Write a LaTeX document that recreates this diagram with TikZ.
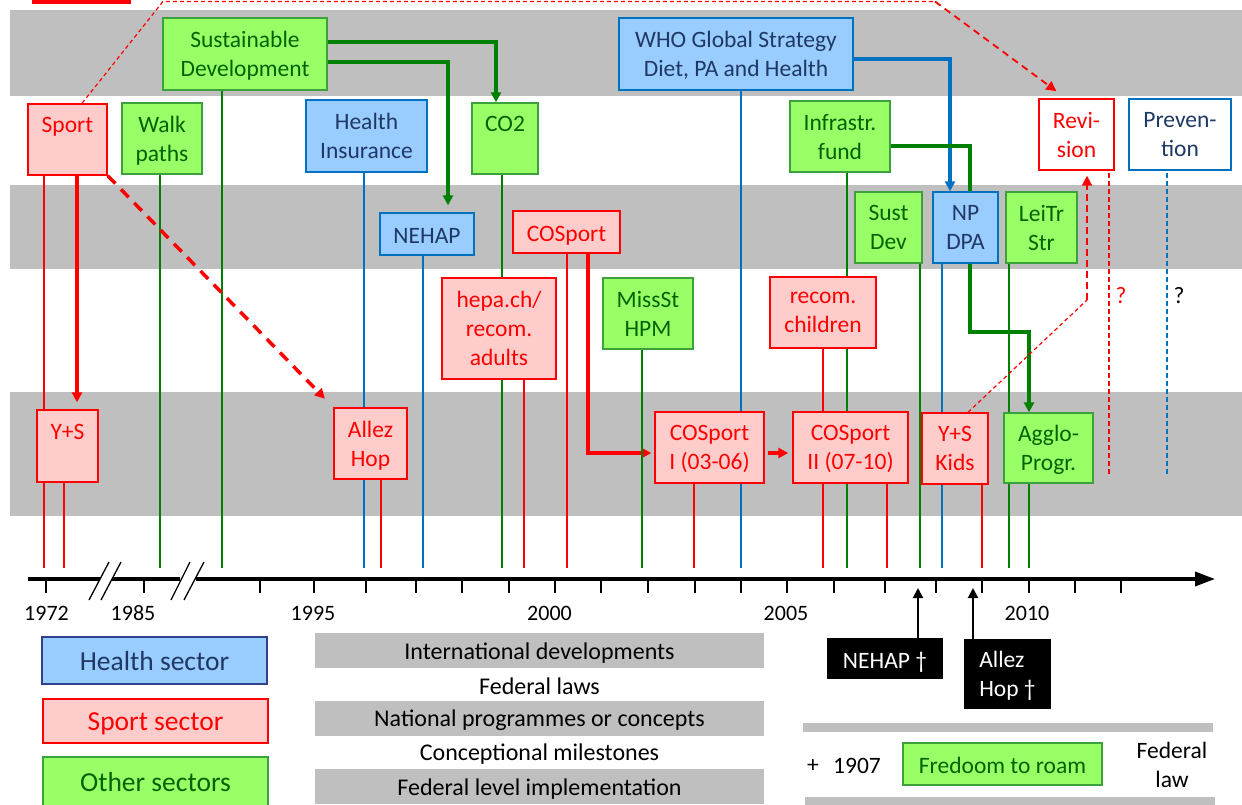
\documentclass[tikz,border=0pt]{standalone}
\usepackage{fontspec}
\setmainfont{Carlito}
\usetikzlibrary{arrows.meta,positioning}

\definecolor{band}{RGB}{191,191,191}
\definecolor{hfill}{RGB}{153,204,255}
\definecolor{hline}{RGB}{0,112,192}
\definecolor{htext}{RGB}{31,56,100}
\definecolor{hnavy}{RGB}{47,64,140}
\definecolor{sfill}{RGB}{255,204,204}
\definecolor{gfill}{RGB}{153,255,102}
\definecolor{gbord}{RGB}{60,160,60}
\definecolor{gline}{RGB}{0,128,0}
\definecolor{gtext}{RGB}{0,100,0}

\pgfdeclarelayer{bands}
\pgfdeclarelayer{links}
\pgfsetlayers{bands,links,main}

\begin{document}
\begin{tikzpicture}[x=1pt,y=-1pt,>={Triangle[length=10pt,width=10pt]},
		every node/.style={font=\fontsize{23.5}{29}\selectfont,inner sep=0pt,align=center}]
		\tikzstyle{box}=[draw,line width=1.4pt,text depth=0pt,execute at begin node={\rule{0pt}{19pt}}]
		\tikzstyle{health}=[box,fill=hfill,draw=hline,text=htext]
		\tikzstyle{sport}=[box,fill=sfill,draw=red,text=red]
		\tikzstyle{other}=[box,fill=gfill,draw=gbord,text=gtext]
		\tikzstyle{hl}=[hline,line width=2pt]
		\tikzstyle{sl}=[red,line width=2pt]
		\tikzstyle{ol}=[gline,line width=2pt]
		\tikzstyle{flow}=[line width=3.5pt,->]
		\tikzstyle{thindash}=[red,line width=1.2pt,dash pattern=on 4pt off 3pt]
		\tikzstyle{legtext}=[font=\fontsize{24}{28}\selectfont]
		\tikzstyle{legrow}=[legtext,fill=band,minimum width=449pt,minimum height=35pt,execute at begin node={\rule{0pt}{22pt}}]
		\tikzstyle{legsector}=[minimum width=225pt,font=\fontsize{27.5}{32}\selectfont]
		\tikzstyle{year}=[anchor=base,font=\fontsize{22}{26}\selectfont]
		\tikzstyle{death}=[fill=black,text=white,text depth=0pt,execute at begin node={\rule{0pt}{19pt}}]
		\clip (0,0) rectangle (1242,804);
		\coordinate (ax) at (0,568);
		\coordinate (axb) at (0,588);
		\coordinate (qend) at (0,475);
		\coordinate (topl) at (163,1.5);
		\coordinate (topr) at (935,1.5);
		\coordinate (kidsbend) at (1087,300);
		\coordinate (npbend) at (970,332);

		% bands
		\begin{pgfonlayer}{bands}
			\fill[band] (10,10) rectangle (1242,96);
			\fill[band] (10,185) rectangle (1242,269);
			\fill[band] (10,392) rectangle (1242,516);
			\fill[band] (803,723) rectangle (1213,732);
			\fill[band] (805,797) rectangle (1215,806);
		\end{pgfonlayer}
		\fill[red] (32,-2) rectangle (131,4);

		% international developments
		\node[other,minimum width=164pt,minimum height=72pt] (sustdev) at (245,54) {Sustainable\\Development};
		\node[health,minimum width=234pt,minimum height=72pt] (who) at (736,54) {WHO Global Strategy\\Diet, PA and Health};
		% federal laws
		\node[sport,minimum width=79pt,minimum height=71pt] (sport) at (67.5,139.5) {Sport\\\mbox{}};
		\node[other,minimum width=80pt,minimum height=71pt] (walk) at (162,138.5) {Walk\\paths};
		\node[health,minimum width=121pt,minimum height=72pt] (hi) at (366.5,136) {Health\\Insurance};
		\node[other,minimum width=66pt,minimum height=71pt] (co2) at (505,138.5) {CO2\\\mbox{}};
		\node[other,minimum width=100pt,minimum height=71pt] (infra) at (840,136.5) {Infrastr.\\fund};
		\node[box,draw=red,text=red,fill=white,minimum width=75pt,minimum height=71pt] (revision) at (1076.5,134.5) {Revi-\\sion};
		\node[box,draw=hline,text=htext,fill=white,minimum width=102pt,minimum height=71pt] (prevention) at (1180,134.5) {Preven-\\tion};
		% national programmes
		\node[health,minimum width=94pt,minimum height=42pt] (nehap) at (427,234) {NEHAP};
		\node[sport,minimum width=107pt,minimum height=42pt] (cosport) at (566.5,232) {COSport};
		\node[other,minimum width=67pt,minimum height=71pt] (sustdev2) at (888.5,227.5) {Sust\\Dev};
		\node[health,minimum width=65pt,minimum height=71pt] (npdpa) at (965.5,227.5) {NP\\DPA};
		\node[other,minimum width=71pt,minimum height=71pt] (leitr) at (1041.5,227.5) {LeiTr\\Str};
		% conceptional milestones
		\node[sport,minimum width=114pt,minimum height=101pt] (hepa) at (499,328.5) {hepa.ch/\\recom.\\adults};
		\node[other,minimum width=90pt,minimum height=71pt] (missst) at (648,313.5) {MissSt\\HPM};
		\node[sport,minimum width=106pt,minimum height=71pt] (recchild) at (823,312.5) {recom.\\children};
		\node[text=red] (qrev) at (1121,296) {?};
		\node (qprev) at (1179,296) {?};
		% implementation
		\node[sport,minimum width=61pt,minimum height=72pt] (ys) at (67.5,446) {Y+S\\\mbox{}};
		\node[sport,minimum width=73pt,minimum height=71pt] (allez) at (370.5,443.5) {Allez\\Hop};
		\node[sport,minimum width=109pt,minimum height=71pt] (cosp1) at (709.5,447.5) {COSport\\I (03-06)};
		\node[sport,minimum width=115pt,minimum height=71pt] (cosp2) at (850.5,447.5) {COSport\\II (07-10)};
		\node[sport,minimum width=66pt,minimum height=71pt] (yskids) at (955,448.5) {Y+S\\Kids};
		\node[other,minimum width=89pt,minimum height=70pt] (agglo) at (1048.5,448) {Agglo-\\Progr.};

		% time axis
		\draw[line width=3.5pt] (28,579) -- (100,579) (112,579) -- (180,579);
		\draw[line width=3.5pt,-{Triangle[length=20pt,width=14pt]}] (196,579) -- (1215,579);
		\draw[line width=1.3pt] (89,600) -- (109,562) (101,600) -- (121,562) (171,600) -- (190,562) (184,600) -- (204,562);
		\foreach \x in {46,144,260,314,366,416,462,509,555,601,648,695,741,787,834,885,936,982,1029,1075,1121}
			\draw[line width=1.5pt] (\x,579) -- (\x,593);
		\node[year] (y1972) at (46.5,620) {1972};
		\node[year] (y1985) at (133,620) {1985};
		\node[year] (y1995) at (313,620) {1995};
		\node[year] (y2000) at (549.5,620) {2000};
		\node[year] (y2005) at (786,620) {2005};
		\node[year] (y2010) at (1027,620) {2010};

		\node[death,minimum width=116pt,minimum height=41pt] (nehapend) at (885,658.5) {NEHAP \textdagger};
		\node[death,minimum width=87pt,minimum height=70pt,align=left] (allezend) at (1007.5,674) {Allez\\Hop \textdagger};
		\draw[line width=2pt,->] (918,0 |- nehapend.north) -- (918,0 |- axb);
		\draw[line width=2pt,->] (973,0 |- allezend.north) -- (973,0 |- axb);

		% legend
		\node[box,legsector,fill=hfill,draw=hnavy,text=htext,minimum height=47pt] (lhealth) at (154.5,660.5) {Health sector};
		\node[sport,legsector,minimum height=44pt] (lsport) at (155.5,721) {Sport sector};
		\node[other,legsector,minimum height=50pt] (lother) at (155.5,782) {Other sectors};
		\node[legrow] (lintl) at (539.5,650.5) {International developments};
		\node[legtext] (lfed) at (539.5,686) {Federal laws};
		\node[legrow] (lnat) at (539.5,718) {National programmes or concepts};
		\node[legtext] (lmile) at (539.5,754) {Conceptional milestones};
		\node[legrow] (limpl) at (539.5,786.5) {Federal level implementation};
		\node (plus) at (813,766) {+};
		\node (y1907) at (857,766) {1907};
		\node[other,minimum width=199pt,minimum height=42pt] (roam) at (1002.5,764) {Fredoom to roam};
		\node (fedlaw) at (1172,765) {Federal\\law};

		\begin{pgfonlayer}{links}
			\draw[sl] (44,0 |- sport.south) -- (44,0 |- ax);
			\draw[sl,flow,shorten >=7pt] (77,0 |- sport.south) -- (77,0 |- ys.north);
			\draw[sl] (64,0 |- ys.south) -- (64,0 |- ax);
			\draw[ol] (160,0 |- walk.south) -- (160,0 |- ax);
			\draw[ol] (222,0 |- sustdev.south) -- (222,0 |- ax);
			\draw[ol,flow] (sustdev.east |- 0,42) -| (496,0 |- co2.north);
			\draw[ol,flow,shorten >=7pt] (sustdev.east |- 0,62) -| (448,0 |- nehap.north);
			\draw[hl] (364,0 |- hi.south) -- (364,0 |- ax);
			\draw[sl] (381,0 |- allez.south) -- (381,0 |- ax);
			\draw[sl,flow,dash pattern=on 11pt off 8pt,shorten >=12pt] (sport.south east) -- (allez.north west);
			\draw[hl] (423,0 |- nehap.south) -- (423,0 |- ax);
			\draw[ol] (502,0 |- co2.south) -- (502,0 |- ax);
			\draw[sl] (524,0 |- hepa.south) -- (524,0 |- ax);
			\draw[sl] (567,0 |- cosport.south) -- (567,0 |- ax);
			\draw[sl,flow,shorten >=3pt] (588,0 |- cosport.south) |- (cosp1.west |- 0,453);
			\draw[ol] (642,0 |- missst.south) -- (642,0 |- ax);
			\draw[hl] (741,0 |- who.south) -- (741,0 |- ax);
			\draw[sl] (694,0 |- cosp1.south) -- (694,0 |- ax);
			\draw[sl,flow,shorten <=3pt,shorten >=4pt] (cosp1.east |- 0,453) -- (cosp2.west |- 0,453);
			\draw[hl,flow] (who.east |- 0,59) -| (950,0 |- npdpa.north);
			\draw[ol,line width=3.5pt] (infra.east |- 0,146) -| (970,0 |- npdpa.north);
			\draw[ol] (847,0 |- infra.south) -- (847,0 |- ax);
			\draw[sl] (823,0 |- recchild.south) -- (823,0 |- ax);
			\draw[sl] (887,0 |- cosp2.south) -- (887,0 |- ax);
			\draw[ol] (920,0 |- sustdev2.south) -- (920,0 |- ax);
			\draw[hl] (942,0 |- npdpa.south) -- (942,0 |- ax);
			\draw[ol,flow] (970,0 |- npdpa.south) -- (npbend) -| (1029,0 |- agglo.north);
			\draw[ol] (1009,0 |- leitr.south) -- (1009,0 |- ax);
			\draw[ol] (1029,0 |- agglo.south) -- (1029,0 |- ax);
			\draw[sl] (982,0 |- yskids.south) -- (982,0 |- ax);
			% revision links
			\draw[thindash] (82,0 |- sport.north) -- (topl) -- (topr);
			\draw[red,line width=1.8pt,dash pattern=on 7pt off 5pt,->,shorten >=12pt] (topr) -- (1066,0 |- revision.north);
			\draw[thindash] (968,0 |- yskids.north) -- (kidsbend);
			\draw[red,line width=2pt,dash pattern=on 7pt off 4pt,->,shorten >=5pt] (kidsbend) -- (1087,0 |- revision.south);
			\draw[red,line width=1.3pt,dash pattern=on 5pt off 3pt,shorten <=2pt] (1109,0 |- revision.south) -- (1109,0 |- qend);
			\draw[hline,line width=1.3pt,dash pattern=on 5pt off 3pt,shorten <=2pt] (1167,0 |- prevention.south) -- (1167,0 |- qend);
		\end{pgfonlayer}
	\end{tikzpicture}
\end{document}
